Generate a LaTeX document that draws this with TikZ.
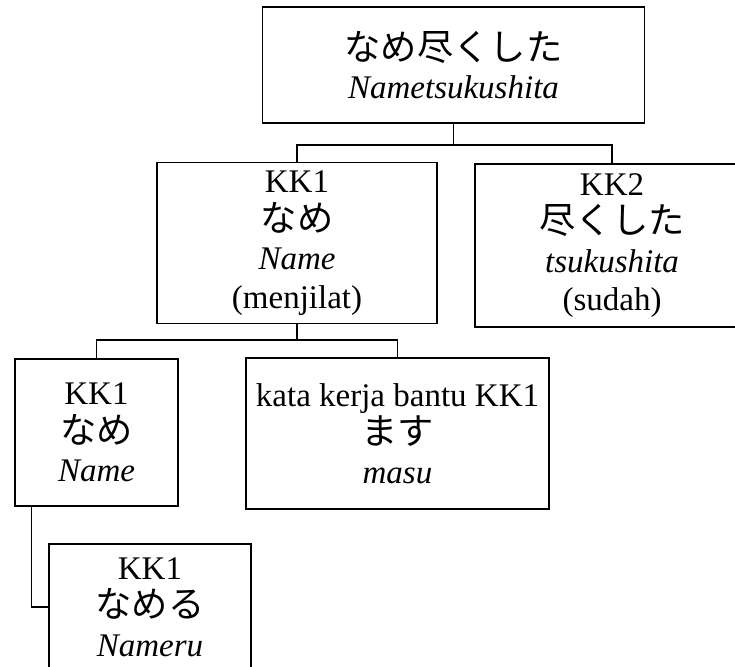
\documentclass[tikz,border=0pt]{standalone}
\usepackage{fontspec}
\setmainfont{Liberation Serif}
\newfontfamily\jp{Noto Sans CJK JP}[Scale=1.1]
\begin{document}
\begin{tikzpicture}[x=1pt,y=-1pt,
  wordbox/.style={draw=black, line width=1.5pt, inner sep=0pt, align=center,
    font=\fontsize{33}{38.5}\selectfont},
  link/.style={draw=black, line width=1.5pt}]
\useasboundingbox (0,0) rectangle (735,666);
\clip (0,0) rectangle (735,666);

% word boxes
\node[wordbox, minimum width=382pt, minimum height=116pt] (top) at (453.5,65)
  {{\jp なめ尽くした}\\\textit{Nametsukushita}};
\node[wordbox, minimum width=280pt, minimum height=161pt] (kk1) at (297,243)
  {KK1\\{\jp なめ}\\\textit{Name}\\(menjilat)};
\node[wordbox, minimum width=274pt, minimum height=163pt] (kk2) at (612,245.5)
  {KK2\\{\jp 尽くした}\\\textit{tsukushita}\\(sudah)};
\node[wordbox, minimum width=163pt, minimum height=147pt] (lb) at (96.5,432.5)
  {KK1\\{\jp なめ}\\\textit{Name}};
\node[wordbox, minimum width=303pt, minimum height=151pt] (rb) at (397.5,433.5)
  {kata kerja bantu KK1\\{\jp ます}\\\textit{masu}};
\node[wordbox, minimum width=202pt, minimum height=126pt] (bot) at (150,607)
  {KK1\\{\jp なめる}\\\textit{Nameru}};

% tree connectors
\coordinate (j1) at (453.5,145);
\coordinate (j2) at (297,340);
\draw[link] (top.south) -- (j1) -| (kk1.north);
\draw[link] (j1) -| (kk2.north);
\draw[link] (kk1.south) -- (j2) -| (lb.north);
\draw[link] (j2) -| (rb.north);
\draw[link] ([xshift=17pt]lb.south west) |- (bot.west);
\end{tikzpicture}
\end{document}
